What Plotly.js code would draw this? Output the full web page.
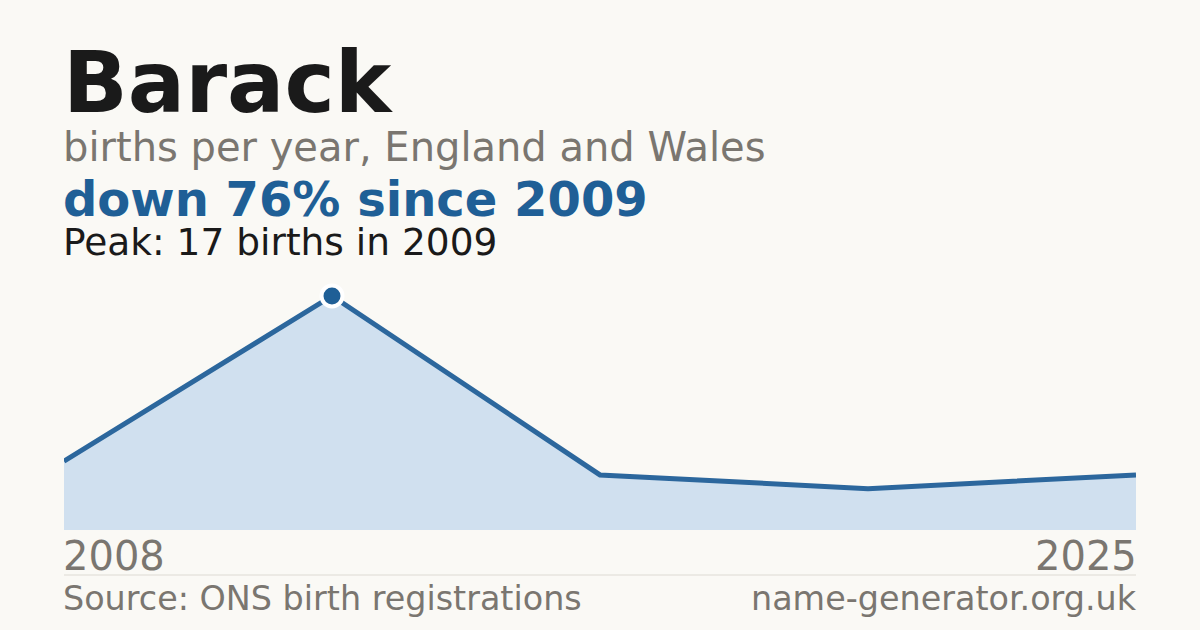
<!DOCTYPE html>
<html>
<head>
<meta charset="utf-8">
<script src="https://cdn.plot.ly/plotly-3.0.1.min.js"></script>
<style>
  html, body { margin: 0; padding: 0; background: #faf9f5; }
  #chart { width: 1200px; height: 630px; }
</style>
</head>
<body>
<div id="chart"></div>
<script>
// data
var years = ['2008', '2009', '2014', '2019', '2025'];
var births = [5, 17, 4, 3, 4];
var peakYear = '2009';
var peakValue = 17;

var nameTitle = 'Barack';
var subtitle = 'births per year, England and Wales';
var headline = 'down 76% since 2009';
var peakNote = 'Peak: 17 births in 2009';
var sourceNote = 'Source: ONS birth registrations';
var siteNote = 'name-generator.org.uk';

// plot box in pixels
var W = 1200, H = 630;
var plotTop = 280, plotBottom = 530;
var plotH = plotBottom - plotTop;

// pixel y -> paper y
function py(y) {
    return (plotBottom - y) / plotH;
}

var font = 'DejaVu Sans, sans-serif';
var gray = '#7a7670';
var blue = '#1f5f96';

var data = [
    {
        type: 'scatter',
        mode: 'lines',
        x: years,
        y: births,
        fill: 'tozeroy',
        fillcolor: '#d0e0ef',
        line: { color: '#2c679d', width: 5 },
        hoverinfo: 'skip'
    },
    {
        type: 'scatter',
        mode: 'markers',
        x: [peakYear],
        y: [peakValue],
        marker: { size: 21, color: blue, line: { color: '#ffffff', width: 4 } },
        hoverinfo: 'skip'
    }
];

function label(text, xref, x, y, anchor, size, color, h) {
    var a = {
        xref: xref, yref: 'paper',
        x: x, y: py(y),
        xanchor: anchor, yanchor: 'middle',
        xshift: anchor === 'left' ? -2 : 2,
        borderpad: 0,
        showarrow: false,
        text: text,
        font: { family: font, size: size, color: color }
    };
    if (h) a.height = h; // tighter box for the stacked header lines
    return a;
}

var annotations = [
    label('<b>' + nameTitle + '</b>', 'paper', 0, 82, 'left', 85, '#1a1a1a'),
    label(subtitle, 'paper', 0, 147, 'left', 40, gray),
    label('<b>' + headline + '</b>', 'paper', 0, 199, 'left', 48, blue, 46),
    label(peakNote, 'paper', 0, 242, 'left', 37.5, '#1a1a1a', 38),
    // first / last year, placed by category index
    label(years[0], 'x', 0, 556, 'left', 40, gray),
    label(years[years.length - 1], 'x', years.length - 1, 556, 'right', 40, gray),
    // footer
    label(sourceNote, 'paper', 0, 598, 'left', 33.4, gray),
    label(siteNote, 'paper', 1, 598, 'right', 33.4, gray)
];

var layout = {
    width: W,
    height: H,
    margin: { l: 64, r: 64, t: plotTop, b: H - plotBottom },
    paper_bgcolor: '#faf9f5',
    plot_bgcolor: 'rgba(0,0,0,0)',
    showlegend: false,
    xaxis: {
        type: 'category',
        range: [0, years.length - 1],
        showgrid: false, zeroline: false, showticklabels: false, ticks: '',
        fixedrange: true
    },
    yaxis: {
        range: [0, peakValue * 1.068],
        showgrid: false, zeroline: false, showticklabels: false, ticks: '',
        fixedrange: true
    },
    shapes: [
        {
            type: 'line', xref: 'paper', yref: 'paper',
            x0: 0, x1: 1, y0: py(575), y1: py(575),
            line: { color: '#dddad3', width: 1 }
        }
    ],
    annotations: annotations
};

Plotly.newPlot('chart', data, layout, { displayModeBar: false, staticPlot: true });
</script>
</body>
</html>
